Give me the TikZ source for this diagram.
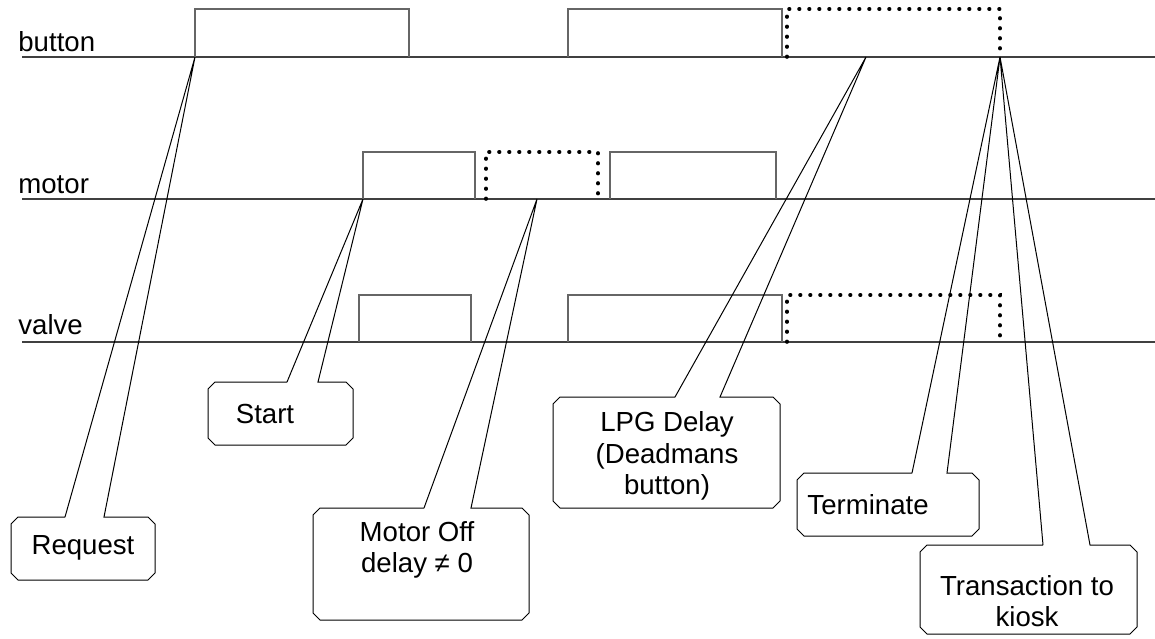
\documentclass[tikz,border=0pt]{standalone}
\usepackage{fontspec}
\setmainfont{Liberation Sans}
\usetikzlibrary{calc}

% callout box with a wedge: left, top, right, bottom, leg 1, leg 2, tip
\newcommand{\callout}[7]{%
	\draw[leader] (#5,#2) -- (#7) -- (#6,#2) -- ({#3-7},#2) -- (#3,{#2+7})
		-- (#3,{#4-7}) -- ({#3-7},#4) -- ({#1+7},#4) -- (#1,{#4-7})
		-- (#1,{#2+7}) -- ({#1+7},#2) -- (#5,#2);
}

\begin{document}
\begin{tikzpicture}[
	x=0.5pt, y=-0.5pt,
	every node/.style={font=\fontsize{13.8}{15.8}\selectfont},
	level/.style = {draw=black!75, line width=0.6pt},
	pulse/.style = {draw=black!60, line width=0.6pt},
	pending/.style = {draw, line width=1.8pt, line cap=round, dash pattern=on 0.3pt off 4.7pt},
	leader/.style = {draw, line width=0.5pt},
	note/.style = {align=center, inner sep=0pt}
	]
	\useasboundingbox (0,0) rectangle (1155,638);

	% signal lines
	\foreach \y/\b/\name in {57/51/button, 199/193/motor, 342/334/valve}{
		\draw[level] (22,\y) -- (1155,\y);
		\node[anchor=base west, inner sep=0pt] (\name) at (18,\b) {\name};
	}

	% button
	\draw[pulse] (195,57) |- (409,9) -- (409,57);
	\draw[pulse] (568,57) |- (782,9) -- (782,57);
	\draw[pending] (787,57) |- (1000,9) -- (1000,57);

	% motor
	\draw[pulse] (363,199) |- (475,152) -- (475,199);
	\draw[pending] (486,199) |- (598,152) -- (598,199);
	\draw[pulse] (610,199) |- (776,152) -- (776,199);

	% valve
	\draw[pulse] (359,342) |- (471,295) -- (471,342);
	\draw[pulse] (568,342) |- (782,295) -- (782,342);
	\draw[pending] (787,342) |- (1000,295) -- (1000,342);

	\coordinate (@req) at (195,57);
	\coordinate (@start) at (363,199);
	\coordinate (@off) at (537,199);
	\coordinate (@lpg) at (866,57);
	\coordinate (@end) at (1000,57);

	\callout{11}{517}{155}{580}{65}{104}{@req}
	\callout{208}{382}{353}{445}{287}{318}{@start}
	\callout{313}{508}{529}{620}{424}{471}{@off}
	\callout{553}{397}{780}{508}{675}{720}{@lpg}
	\callout{797}{473}{979}{536}{912}{947}{@end}
	\callout{920}{545}{1137}{634}{1043}{1090}{@end}

	\node[note] (request) at (83,548) {Request};
	\node[note] (start) at (265,414) {Start};
	\node[note] (motoroff) at (417,550) {Motor Off\\delay ≠ 0};
	\node[note] (lpgdelay) at (667,456) {LPG Delay\\(Deadmans\\button)};
	\node[note] (terminate) at (868,505) {Terminate};
	\node[note] (kiosk) at (1027,601) {Transaction to\\kiosk};

\end{tikzpicture}
\end{document}
